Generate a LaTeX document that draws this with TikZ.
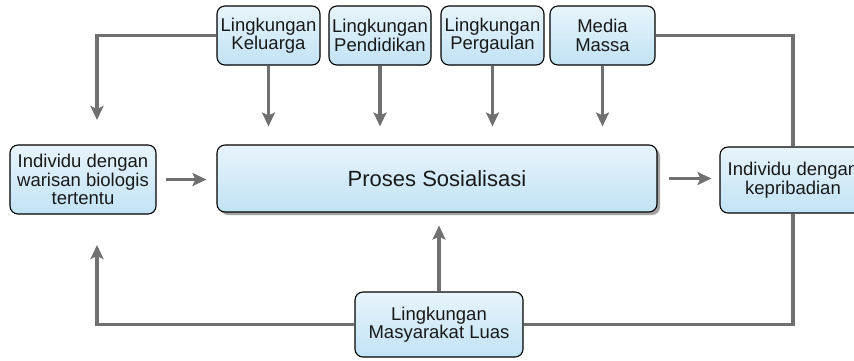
\documentclass[tikz,border=0pt]{standalone}
\usepackage{fontspec}
\setmainfont{Liberation Sans}
\usetikzlibrary{arrows.meta,calc,shadows,backgrounds}
\definecolor{arrgray}{RGB}{112,112,112}
\definecolor{boxtop}{RGB}{232,244,251}
\definecolor{boxbot}{RGB}{193,227,245}
\definecolor{txt}{RGB}{25,25,25}
\tikzset{
  box/.style={draw=black, line width=1.1pt, rounded corners=8pt, top color=boxtop, bottom color=boxbot,
    align=center, inner sep=0pt, text=txt, font=\fontsize{18.5}{18.5}\selectfont},
  arr/.style={draw=arrgray, line width=3.2pt, -{Stealth[length=14pt,width=13pt,inset=3pt]}},
  lin/.style={draw=arrgray, line width=3.2pt},
}
\begin{document}
\begin{tikzpicture}[x=1pt,y=-1pt]
\useasboundingbox (0,0) rectangle (854,360);
% coordinates
\coordinate (lt) at (97,120);
\coordinate (lb) at (97,245);
% nodes
\node[box, minimum width=103pt, minimum height=59pt] (kel) at (268.5,35.5) {Lingkungan\\Keluarga};
\node[box, minimum width=102pt, minimum height=59pt] (pen) at (380,35.5) {Lingkungan\\Pendidikan};
\node[box, minimum width=103pt, minimum height=59pt] (per) at (492.5,35.5) {Lingkungan\\Pergaulan};
\node[box, minimum width=105pt, minimum height=59pt] (med) at (602.5,35.5) {Media\\Massa};
\node[box, minimum width=440pt, minimum height=67pt, font=\fontsize{22}{22}\selectfont,
  drop shadow={shadow xshift=3pt, shadow yshift=-3pt, fill=black!45, opacity=0.8}] (pro) at (437,178.5) {Proses Sosialisasi};
\node[box, minimum width=146pt, minimum height=69pt] (ind) at (83,179.5) {Individu dengan\\warisan biologis\\tertentu};
\node[box, minimum width=146pt, minimum height=66pt] (kep) at (793,180) {Individu dengan\\kepribadian};
\node[box, minimum width=168pt, minimum height=65pt] (mas) at (439,324.5) {Lingkungan\\Masyarakat Luas};
% connectors (behind)
\begin{scope}[on background layer]
\draw[arr] (kel.west) -| (lt);
\draw[lin] (med.east) -| (kep.north);
\draw[lin] (mas.east) -| (kep.south);
\draw[arr] (mas.west) -| (lb);
\end{scope}
\draw[arr, shorten >=18pt] (kel.south) -- (kel.south |- pro.north);
\draw[arr, shorten >=18pt] (pen.south) -- (pen.south |- pro.north);
\draw[arr, shorten >=18pt] (per.south) -- (per.south |- pro.north);
\draw[arr, shorten >=18pt] (med.south) -- (med.south |- pro.north);
\draw[arr, shorten <=9pt, shorten >=10pt] (ind.east) -- (ind.east -| pro.west);
\draw[arr, shorten <=11pt, shorten >=8pt] (pro.east) -- (pro.east -| kep.west);
\draw[arr, shorten >=13pt] (mas.north) -- (mas.north |- pro.south);
\end{tikzpicture}
\end{document}
